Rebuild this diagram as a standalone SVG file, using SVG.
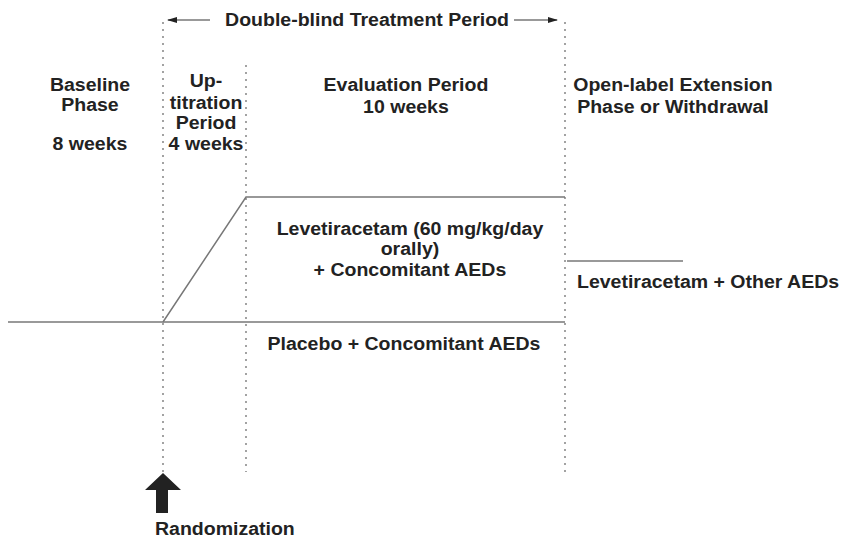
<svg xmlns="http://www.w3.org/2000/svg" width="843" height="538" viewBox="0 0 843 538">
<defs>
<style>
.t{font-family:"Liberation Sans",Arial,sans-serif;font-weight:bold;font-size:18.5px;fill:#222}
.c{text-anchor:middle}
.dot{stroke:#666;stroke-width:1.2;stroke-dasharray:2 5;fill:none}
.ln{stroke:#777;stroke-width:1.5;fill:none}
</style>
<marker id="ah" markerWidth="10" markerHeight="8" refX="9" refY="4" orient="auto" markerUnits="userSpaceOnUse">
<path d="M0,1 L10,4 L0,7 Z" fill="#222"/>
</marker>
</defs>
<rect width="843" height="538" fill="#fff"/>
<g id="connectors">
<line class="dot" x1="163" y1="22" x2="163" y2="473"/>
<line class="dot" x1="246" y1="65" x2="246" y2="472"/>
<line class="dot" x1="565" y1="22" x2="565" y2="472"/>
<line class="ln" x1="210" y1="20" x2="168" y2="20" marker-end="url(#ah)"/>
<line class="ln" x1="514" y1="20" x2="557" y2="20" marker-end="url(#ah)"/>
<polyline class="ln" points="8,322 565,322"/>
<polyline class="ln" points="163,322 246,197 565,197"/>
<line class="ln" x1="567" y1="261" x2="683" y2="261"/>
</g>
<g id="randomization-arrow">
<path d="M163,473 L181,490 L168,490 L168,513 L156,513 L156,490 L145,490 Z" fill="#222"/>
</g>
<g transform="scale(1.055 1)">
<g id="header"><text class="t c" x="347.9" y="26">Double-blind Treatment Period</text></g>
<g id="baseline"><text class="t c" x="85.3" y="91">Baseline</text><text class="t c" x="85.3" y="111">Phase</text><text class="t c" x="85.3" y="150">8 weeks</text></g>
<g id="uptitration"><text class="t c" x="195.3" y="87">Up-</text><text class="t c" x="195.3" y="109">titration</text><text class="t c" x="195.3" y="129">Period</text><text class="t c" x="195.3" y="150">4 weeks</text></g>
<g id="evaluation"><text class="t c" x="384.8" y="91">Evaluation Period</text><text class="t c" x="384.8" y="113">10 weeks</text></g>
<g id="openlabel"><text class="t c" x="637.9" y="91">Open-label Extension</text><text class="t c" x="637.9" y="113">Phase or Withdrawal</text></g>
<g id="levetiracetam"><text class="t c" x="388.6" y="235">Levetiracetam (60 mg/kg/day</text><text class="t c" x="388.6" y="255">orally)</text><text class="t c" x="388.6" y="276">+ Concomitant AEDs</text></g>
<g id="placebo"><text class="t c" x="382.9" y="350">Placebo + Concomitant AEDs</text></g>
<g id="other"><text class="t" x="546.9" y="288">Levetiracetam + Other AEDs</text></g>
<g id="randomization"><text class="t" x="146.9" y="535">Randomization</text></g>
</g>
</svg>
